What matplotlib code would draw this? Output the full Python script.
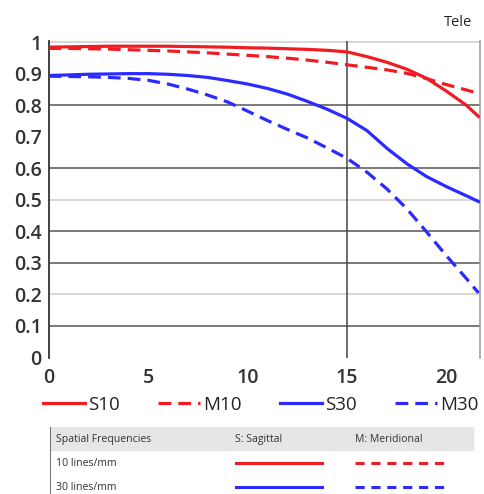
import matplotlib.pyplot as plt
import matplotlib.patches as mpatches

plt.rcParams['font.family'] = ['Open Sans', 'DejaVu Sans']

# image height in mm from the optical axis
img_height = [0, 1, 2, 3, 4, 5, 6, 7, 8, 9, 10, 11, 12, 13, 14, 15, 16, 17, 18, 19, 20, 21, 21.6]

s10 = [0.985, 0.986, 0.987, 0.988, 0.988, 0.988, 0.988, 0.987, 0.986, 0.985, 0.983, 0.982, 0.980,
       0.978, 0.975, 0.970, 0.955, 0.937, 0.915, 0.886, 0.845, 0.800, 0.765]
m10 = [0.981, 0.981, 0.980, 0.979, 0.977, 0.975, 0.973, 0.970, 0.967, 0.963, 0.959, 0.955, 0.950,
       0.944, 0.937, 0.929, 0.921, 0.913, 0.902, 0.885, 0.866, 0.849, 0.838]
s30 = [0.895, 0.897, 0.899, 0.900, 0.901, 0.901, 0.899, 0.895, 0.889, 0.879, 0.868, 0.854, 0.836,
       0.813, 0.788, 0.759, 0.720, 0.664, 0.615, 0.574, 0.542, 0.513, 0.495]
m30 = [0.893, 0.892, 0.891, 0.889, 0.886, 0.880, 0.868, 0.852, 0.833, 0.811, 0.782, 0.752, 0.724,
       0.697, 0.665, 0.632, 0.588, 0.535, 0.472, 0.398, 0.322, 0.250, 0.205]

series_labels = ["S10", "M10", "S30", "M30"]
x_ticks = [0, 5, 10, 15, 20]
y_ticks = [0, 0.1, 0.2, 0.3, 0.4, 0.5, 0.6, 0.7, 0.8, 0.9, 1]
y_tick_labels = ["0", "0.1", "0.2", "0.3", "0.4", "0.5", "0.6", "0.7", "0.8", "0.9", "1"]
dark_grid = [0.1, 0.3, 0.4, 0.6, 0.8]
light_grid = [0.2, 0.5, 1.0]

RED = "#f01c22"
BLUE = "#2b2bff"
LW = 2.3
DASH = (0, (4, 2.2))

fig = plt.figure(figsize=(4.84, 4.94), dpi=100)
ax = fig.add_axes([48.5 / 484, 1 - 357.5 / 494, (479.5 - 48.5) / 484, 316 / 494])

for y in dark_grid:
    ax.axhline(y, color="#555555", linewidth=1.1, zorder=1)
for y in light_grid:
    ax.axhline(y, color="#cccccc", linewidth=1.1, zorder=1)
ax.axvline(15, color="#444444", linewidth=1.1, zorder=1)

ax.plot(img_height, s10, color=RED, linewidth=LW, label=series_labels[0], zorder=3)
ax.plot(img_height, m10, color=RED, linewidth=LW, linestyle=DASH, label=series_labels[1], zorder=3)
ax.plot(img_height, s30, color=BLUE, linewidth=LW, label=series_labels[2], zorder=3)
ax.plot(img_height, m30, color=BLUE, linewidth=LW, linestyle=DASH, label=series_labels[3], zorder=3)

ax.set_xlim(0, 21.65)
ax.set_ylim(0, 1.003)
ax.set_xticks(x_ticks)
ax.set_yticks(y_ticks)
ax.set_yticklabels(y_tick_labels)
ax.tick_params(length=0, labelsize=14, labelcolor="#333333", pad=5)
ax.tick_params(axis="x", pad=7.5)
for lab in ax.get_xticklabels() + ax.get_yticklabels():
    lab.set_fontweight("semibold")
for side in ["top", "bottom"]:
    ax.spines[side].set_visible(False)
ax.spines["left"].set_color("#333333")
ax.spines["left"].set_linewidth(1.3)
ax.spines["right"].set_color("#999999")
ax.spines["right"].set_linewidth(1.1)

fig.text(472 / 484, 1 - 22 / 494, "Tele", ha="right", va="center", fontsize=10.5, color="#222222")

leg = fig.legend(loc="center left", bbox_to_anchor=(26 / 484, 1 - 405 / 494), ncol=4, frameon=False,
                 fontsize=13.5, handlelength=2.25, handletextpad=0.15, columnspacing=2.05)
for t in leg.get_texts():
    t.set_color("#222222")

# small key table below the chart
tab = fig.add_axes([50 / 484, 0, (484 - 50) / 484, 1 - 427 / 494])
tab.set_xlim(0, 434)
tab.set_ylim(67, 0)
tab.axis("off")
tab.add_patch(mpatches.Rectangle((0, 0), 423, 23, color="#e6e6e6", zorder=0))
tab.plot([0, 0], [0, 67], color="#555555", linewidth=1.2)
tab.text(6, 12, "Spatial Frequencies", fontsize=7.6, va="center", color="#333333")
tab.text(185, 12, "S: Sagittal", fontsize=7.6, va="center", color="#333333")
tab.text(305, 12, "M: Meridional", fontsize=7.6, va="center", color="#333333")
tab.text(6, 36, "10 lines/mm", fontsize=7.6, va="center", color="#333333")
tab.text(6, 60, "30 lines/mm", fontsize=7.6, va="center", color="#333333")
tab.plot([186, 272], [36, 36], color=RED, linewidth=2.2)
tab.plot([305, 394], [36, 36], color=RED, linewidth=2.2, linestyle=(0, (3, 2.2)))
tab.plot([186, 272], [60, 60], color=BLUE, linewidth=2.2)
tab.plot([305, 394], [60, 60], color=BLUE, linewidth=2.2, linestyle=(0, (3, 2.2)))

fig.savefig("out.png", dpi=100)
